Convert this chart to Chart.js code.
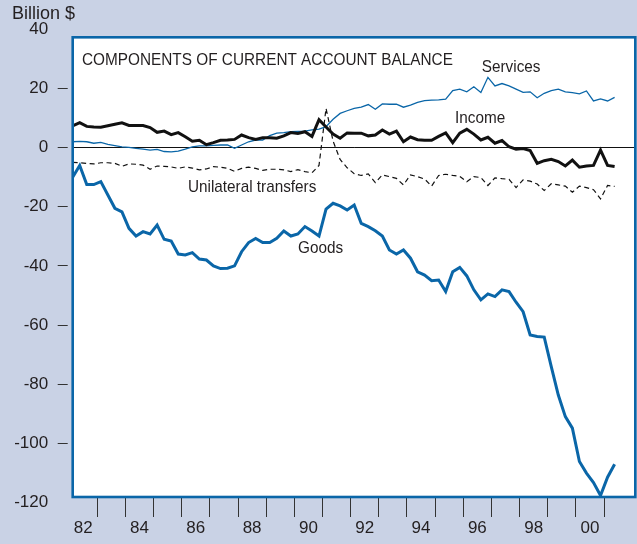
<!DOCTYPE html>
<html>
<head>
<meta charset="utf-8">
<title>Components of current account balance</title>
<script src="https://cdn.jsdelivr.net/npm/chart.js@4.4.1/dist/chart.umd.min.js"></script>
<style>
  html, body { margin: 0; padding: 0; background: #c9d2e5; }
  #wrap { width: 637px; height: 544px; }
</style>
</head>
<body>
<div id="wrap"><canvas id="chart" width="637" height="544"></canvas></div>
<script>
// Quarterly, 1982:Q1 to 2001:Q2, billions of dollars
const quarters = []
for (let yr = 1982; yr <= 2001; yr++) {
  for (let q = 1; q <= 4; q++) {
    if (yr === 2001 && q > 2) break
    quarters.push(yr + (q - 0.5) / 4)
  }
}

const goods = [
  -10, -6, -12.5, -12.5, -11.5, -16, -20.5, -21.7, -27.3, -29.9,
  -28.4, -29.2, -26.2, -31, -31.6, -36, -36.3, -35.5, -37.7, -38,
  -40, -40.9, -40.8, -40, -35.2, -32.1, -30.7, -32.1, -32.1, -30.7,
  -28.2, -29.9, -29.2, -26.7, -28.2, -29.9, -20.8, -18.8, -19.7, -21.1,
  -19.4, -25.6, -26.7, -28.1, -29.9, -34.6, -36, -34.6, -37.4, -42,
  -43.1, -45, -44.8, -48.7, -42, -40.5, -43.4, -48.1, -51.5, -49.5,
  -50.4, -48.1, -48.7, -52.3, -55.5, -63.4, -63.9, -64.1, -74.1, -83.7,
  -91, -94.9, -106.2, -110.1, -113.3, -117.7, -111.5, -107.1
]

const services = [
  2.0, 2.1, 2.0, 1.5, 1.8, 1.1, 0.7, 0.3, 0.1, -0.2,
  -0.5, -0.8, -0.6, -1.3, -1.4, -1.2, -0.5, 0.3, 0.6, 0.6,
  0.8, 0.9, 0.9, -0.2, 0.9, 2.0, 2.6, 2.6, 4.1, 4.9,
  5.1, 5.4, 5.5, 5.6, 6.0, 6.3, 7.1, 9.6, 11.6, 12.5,
  13.3, 13.7, 14.6, 13.0, 14.8, 14.7, 14.7, 13.7, 14.4, 15.3,
  15.9, 16.1, 16.2, 16.4, 19.3, 19.8, 18.9, 20.6, 18.7, 23.8,
  20.9, 21.7, 20.9, 19.8, 18.7, 18.9, 16.9, 18.4, 19.3, 19.8,
  18.9, 18.6, 18.2, 19.2, 15.8, 16.5, 15.8, 17.0
]

const income = [
  7.4, 8.5, 7.2, 7.0, 6.9, 7.4, 7.9, 8.4, 7.5, 7.5,
  7.5, 6.8, 5.2, 5.6, 4.4, 5.1, 3.7, 2.2, 2.5, 1.0,
  1.7, 2.5, 2.6, 2.8, 4.3, 3.4, 2.8, 3.4, 3.4, 3.2,
  4.0, 5.1, 4.8, 5.4, 3.8, 9.5, 7.0, 4.6, 3.2, 5.0,
  4.9, 4.9, 4.0, 4.3, 6.0, 4.6, 5.6, 2.0, 3.6, 2.7,
  2.5, 2.5, 3.8, 5.0, 1.7, 4.9, 6.2, 4.6, 2.6, 3.5,
  1.5, 2.4, 0.3, -0.5, -0.3, -1.0, -5.3, -4.4, -3.9, -4.7,
  -6.2, -4.2, -6.6, -6.2, -6.0, -0.8, -6.0, -6.4
]

const transfers = [
  -5.0, -5.1, -5.3, -5.5, -5.1, -5.1, -5.3, -6.3, -5.5, -5.6,
  -5.9, -7.3, -6.2, -6.3, -6.5, -7.0, -6.5, -6.9, -7.5, -7.2,
  -6.4, -6.6, -7.0, -8.0, -7.0, -6.6, -7.0, -7.7, -7.3, -7.3,
  -7.5, -8.1, -7.4, -8.1, -8.5, -6.0, 13.3, 2.2, -4.0, -6.8,
  -8.8, -9.4, -8.9, -11.8, -9.2, -9.8, -10.4, -12.6, -9.2, -9.8,
  -10.6, -13.0, -9.4, -9.0, -9.4, -9.7, -11.5, -9.8, -10.1, -12.8,
  -10.2, -10.5, -10.7, -13.5, -10.9, -11.3, -12.3, -14.5, -12.2, -12.6,
  -13.0, -15.1, -13.0, -13.5, -14.2, -17.3, -12.8, -13.1
]

const yTicks = [40, 20, 0, -20, -40, -60, -80, -100, -120]
// tick marks sit on year boundaries, labels are centred on even years
const yearTicks = [1983, 1984, 1985, 1986, 1987, 1988, 1989, 1990, 1991, 1992,
                   1993, 1994, 1995, 1996, 1997, 1998, 1999, 2000, 2001]
const yearLabels = ['82', '84', '86', '88', '90', '92', '94', '96', '98', '00']

const BG = '#c9d2e5'
const BLUE = '#0a66a8'
const INK = '#231f20'
const FONT = '"Liberation Sans", Arial, Helvetica, sans-serif'

const seriesNotes = [
  { text: 'Services', x: 1997.7, y: 27.3 },
  { text: 'Income', x: 1996.6, y: 10.0 },
  { text: 'Unilateral transfers', x: 1988.5, y: -13.3 },
  { text: 'Goods', x: 1990.93, y: -33.9 }
]

Chart.defaults.font.family = FONT

const toPoints = arr => arr.map((v, i) => ({ x: quarters[i], y: v }))

// narrow type, like the condensed face used for the chart notes
function narrowText(ctx, text, x, y, squeeze) {
  ctx.save()
  ctx.translate(x, y)
  ctx.scale(squeeze, 1)
  ctx.fillText(text, 0, 0)
  ctx.restore()
}

const paper = {
  id: 'paper',
  beforeDraw(chart) {
    const { ctx, chartArea: a } = chart
    ctx.save()
    ctx.fillStyle = BG
    ctx.fillRect(0, 0, chart.width, chart.height)
    ctx.fillStyle = '#fff'
    ctx.fillRect(a.left, a.top, a.right - a.left, a.bottom - a.top)
    ctx.restore()
  },
  afterDatasetsDraw(chart) {
    const { ctx, chartArea: a, scales } = chart
    ctx.save()
    // blue frame round the plot
    ctx.strokeStyle = BLUE
    ctx.lineWidth = 2.6
    ctx.strokeRect(a.left, a.top, a.right - a.left, a.bottom - a.top)

    ctx.fillStyle = INK
    ctx.textBaseline = 'alphabetic'
    ctx.textAlign = 'left'
    ctx.font = '18px ' + FONT
    ctx.fillText('Billion $', 12, 18.5)
    ctx.font = '16.5px ' + FONT
    narrowText(ctx, 'COMPONENTS OF CURRENT ACCOUNT BALANCE', a.left + 9.3, a.top + 27.7, 0.93)

    ctx.font = '17px ' + FONT
    ctx.textAlign = 'center'
    ctx.textBaseline = 'middle'
    seriesNotes.forEach(n => {
      narrowText(ctx, n.text, scales.x.getPixelForValue(n.x), scales.y.getPixelForValue(n.y), 0.9)
    })
    ctx.restore()
  }
}

new Chart(document.getElementById('chart'), {
  type: 'line',
  data: {
    datasets: [
      { label: 'Income', data: toPoints(income), borderColor: '#111', borderWidth: 3 },
      { label: 'Goods', data: toPoints(goods), borderColor: BLUE, borderWidth: 3 },
      { label: 'Services', data: toPoints(services), borderColor: BLUE, borderWidth: 1.3 },
      { label: 'Unilateral transfers', data: toPoints(transfers), borderColor: '#111',
        borderWidth: 1.2, borderDash: [5, 3.5] }
    ]
  },
  options: {
    responsive: false,
    animation: false,
    devicePixelRatio: 1,
    layout: { padding: { top: 37.3, right: 1.7, left: 0, bottom: 0 } },
    elements: {
      point: { radius: 0 },
      line: { tension: 0, borderCapStyle: 'butt', borderJoinStyle: 'miter' }
    },
    plugins: { legend: { display: false }, tooltip: { enabled: false } },
    scales: {
      x: {
        type: 'linear',
        min: 1982.126,
        max: 2002.11,
        afterBuildTicks: axis => { axis.ticks = yearTicks.map(v => ({ value: v })) },
        afterFit: axis => { axis.height = 47 },
        border: { display: false },
        grid: { drawOnChartArea: false, tickLength: 20, tickColor: '#333', tickWidth: 1 },
        ticks: {
          autoSkip: false,
          maxRotation: 0,
          labelOffset: -14.1,
          padding: 1,
          color: INK,
          font: { size: 17 },
          callback: (v, i) => (i % 2 === 0 ? yearLabels[i / 2] : '')
        }
      },
      y: {
        min: -118.2,
        max: 37.35,
        afterBuildTicks: axis => { axis.ticks = yTicks.map(v => ({ value: v })) },
        afterFit: axis => { axis.width = 72.7 },
        border: { display: false },
        grid: {
          color: c => (c.tick && c.tick.value === 0 ? '#111' : 'transparent'),
          lineWidth: 1,
          tickLength: 15,
          tickBorderDash: [10, 5],
          tickColor: c => (c.tick && (c.tick.value === 40 || c.tick.value === -120) ? 'transparent' : '#333'),
          tickWidth: 1.2
        },
        ticks: {
          autoSkip: false,
          padding: 9.5,
          color: INK,
          font: { size: 17 },
          callback: v => String(v)
        }
      }
    }
  },
  plugins: [paper]
})
</script>
</body>
</html>
